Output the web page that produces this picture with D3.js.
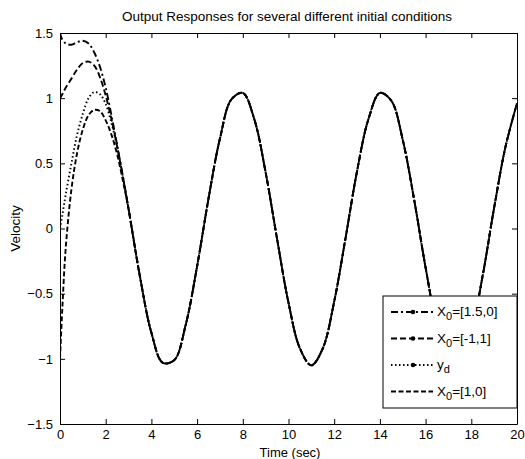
<!DOCTYPE html>
<html>
<head>
<meta charset="utf-8">
<script src="https://cdn.jsdelivr.net/npm/d3@7"></script>
<style>
  body { margin: 0; background: #fff; }
  text { font-family: "Liberation Sans", Arial, sans-serif; fill: #000; }
</style>
</head>
<body>
<div id="chart"></div>
<script>
// time samples (sec)
const time = [0, 0.1, 0.25, 0.5, 0.75, 1, 1.25, 1.5, 1.75, 2, 2.25, 2.5, 2.75, 3,
  3.5, 4, 4.5, 5, 5.5, 6, 6.5, 7, 7.5, 8, 8.5, 9, 9.5, 10, 10.5, 11, 11.5, 12,
  12.5, 13, 13.5, 14, 14.5, 15, 15.5, 16, 16.5, 17, 17.5, 18, 18.5, 19, 19.5, 20];

// shared tail after the transients die out (t >= 3.5)
const tail = [-0.37, -0.80, -1.03, -1.01, -0.74, -0.29, 0.23, 0.69, 0.99, 1.04,
  0.84, 0.43, -0.08, -0.57, -0.92, -1.05, -0.92, -0.56, -0.07, 0.44, 0.84, 1.04,
  0.98, 0.68, 0.22, -0.30, -0.75, -1.01, -1.03, -0.79, -0.36, 0.16, 0.63, 0.96];

const x0a = [1.50, 1.45, 1.42, 1.41, 1.43, 1.44, 1.42, 1.35, 1.24, 1.08, 0.87, 0.64, 0.40, 0.15].concat(tail);
const x0b = [1.00, 1.03, 1.08, 1.15, 1.22, 1.27, 1.28, 1.25, 1.16, 1.02, 0.84, 0.63, 0.40, 0.15].concat(tail);
const yd  = [0.00, 0.10, 0.26, 0.50, 0.72, 0.88, 1.00, 1.047, 1.03, 0.955, 0.81, 0.63, 0.40, 0.15].concat(tail);
const x0c = [-1.00, -0.62, -0.15, 0.30, 0.58, 0.76, 0.87, 0.91, 0.90, 0.83, 0.72, 0.57, 0.37, 0.15].concat(tail);

const seriesNames = ["X0=[1.5,0]", "X0=[-1,1]", "yd", "X0=[1,0]"];
const seriesValues = [x0a, x0b, yd, x0c];
const seriesDash = ["7,3,2,3", "6,3", "1.5,2.5", "5,2.5"];
const seriesMarker = [true, true, true, false];

const xTicks = [0, 2, 4, 6, 8, 10, 12, 14, 16, 18, 20];
const yTicks = [-1.5, -1, -0.5, 0, 0.5, 1, 1.5];

const W = 525, H = 459;
const margin = {top: 33, right: 8, bottom: 35, left: 60};
const fs = "13.5px";

const x = d3.scaleLinear().domain([0, 20]).range([margin.left, W - margin.right]);
const y = d3.scaleLinear().domain([-1.5, 1.5]).range([H - margin.bottom, margin.top]);

const svg = d3.select("#chart").append("svg")
  .attr("width", W).attr("height", H);

svg.append("defs").append("clipPath").attr("id", "clip")
  .append("rect")
  .attr("x", x(0)).attr("y", y(1.5))
  .attr("width", x(20) - x(0)).attr("height", y(-1.5) - y(1.5));

const line = d3.line()
  .x((d, i) => x(time[i]))
  .y(d => y(d))
  .curve(d3.curveCatmullRom);

const plot = svg.append("g").attr("clip-path", "url(#clip)");
seriesValues.forEach((vals, k) => {
  plot.append("path")
    .datum(vals)
    .attr("fill", "none")
    .attr("stroke", "#000")
    .attr("stroke-width", 1.9)
    .attr("stroke-dasharray", seriesDash[k])
    .attr("d", line);
});

// axes with inward ticks, box on all sides
const fmt = d => d3.format("")(d);
svg.append("g")
  .attr("transform", "translate(0," + y(-1.5) + ")")
  .call(d3.axisBottom(x).tickValues(xTicks).tickSize(-5).tickPadding(6).tickFormat(fmt).tickSizeOuter(0));
svg.append("g")
  .attr("transform", "translate(0," + y(1.5) + ")")
  .call(d3.axisTop(x).tickValues(xTicks).tickSize(-5).tickFormat("").tickSizeOuter(0));
svg.append("g")
  .attr("transform", "translate(" + x(0) + ",0)")
  .call(d3.axisLeft(y).tickValues(yTicks).tickSize(-5).tickPadding(7).tickFormat(fmt).tickSizeOuter(0));
svg.append("g")
  .attr("transform", "translate(" + x(20) + ",0)")
  .call(d3.axisRight(y).tickValues(yTicks).tickSize(-5).tickFormat("").tickSizeOuter(0));

svg.selectAll(".domain").attr("stroke", "#000").attr("stroke-width", 1);
svg.selectAll(".tick line").attr("stroke", "#000");
svg.selectAll(".tick text").style("font-size", "13px").attr("fill", "#000");

svg.append("text")
  .attr("x", 287).attr("y", 21)
  .attr("text-anchor", "middle").style("font-size", fs)
  .text("Output Responses for several different initial conditions");

svg.append("text")
  .attr("x", 290).attr("y", 457)
  .attr("text-anchor", "middle").style("font-size", "13px")
  .text("Time (sec)");

svg.append("text")
  .attr("transform", "translate(20," + y(0) + ") rotate(-90)")
  .attr("text-anchor", "middle").style("font-size", fs)
  .text("Velocity");

// legend
const lg = svg.append("g");
lg.append("rect")
  .attr("x", 383).attr("y", 296).attr("width", 134).attr("height", 112)
  .attr("fill", "#fff").attr("stroke", "#000").attr("stroke-width", 1);

seriesNames.forEach((name, k) => {
  const ly = 312 + k * 26.5;
  lg.append("line")
    .attr("x1", 391).attr("x2", 433).attr("y1", ly).attr("y2", ly)
    .attr("stroke", "#000").attr("stroke-width", 1.9)
    .attr("stroke-dasharray", seriesDash[k]);
  if (seriesMarker[k]) {
    lg.append("circle").attr("cx", 413).attr("cy", ly).attr("r", 2.3).attr("fill", "#000");
  }
  const t = lg.append("text").attr("x", 437).attr("y", ly + 4).style("font-size", fs);
  if (name.startsWith("X0")) {
    t.append("tspan").text("X");
    t.append("tspan").attr("dy", 4).style("font-size", "11px").text("0");
    t.append("tspan").attr("dy", -4).text(name.slice(2));
  } else {
    t.append("tspan").text("y");
    t.append("tspan").attr("dy", 4).style("font-size", "11px").text("d");
  }
});
</script>
</body>
</html>
